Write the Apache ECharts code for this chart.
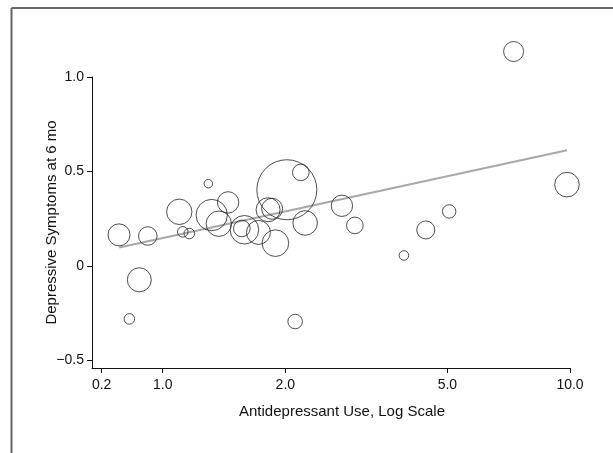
<!DOCTYPE html>
<html lang="en">
  <head>
    <meta charset="UTF-8" />
    <title>Antidepressant use vs depressive symptoms</title>
    <style>
      * {
        padding: 0;
        margin: 0;
      }
      html,
      body {
        width: 100%;
        height: 100%;
        background: #fff;
      }
      #main {
        width: 613px;
        height: 453px;
      }
    </style>
  </head>
  <body>
    <div id="main"></div>
    <script src="https://cdn.jsdelivr.net/npm/echarts@6/dist/echarts.min.js"></script>
    <script>
      // antidepressant use (log scale), symptoms at 6 mo, study weight
      var usage = [0.781, 0.876, 0.828, 0.919, 1.098, 1.12, 1.162, 1.294, 1.319, 1.447,
        1.373, 1.587, 1.564, 1.718, 1.891, 1.814, 1.856, 2.017, 2.183, 2.237,
        2.114, 2.754, 2.963, 3.91, 4.424, 5.05, 7.27, 9.83];
      var symptoms = [0.164, -0.074, -0.281, 0.158, 0.286, 0.18, 0.171, 0.435, 0.269, 0.336,
        0.223, 0.191, 0.198, 0.177, 0.12, 0.297, 0.302, 0.403, 0.495, 0.227,
        -0.295, 0.318, 0.214, 0.055, 0.19, 0.288, 1.135, 0.43];
      var weight = [121, 144, 28, 86, 161, 28, 28, 18, 246, 114,
        161, 204, 69, 144, 177, 144, 110, 900, 69, 151,
        53, 114, 69, 23, 81, 45, 100, 151];

      // fitted line ends
      var fitX = [0.782, 9.83];
      var fitY = [0.097, 0.612];

      // x ticks (first tick sits at the axis break)
      var xTickAt = [0.708, 1, 2, 5, 10];
      var xTickLabels = ['0.2', '1.0', '2.0', '5.0', '10.0'];
      var yTicks = [-0.5, 0, 0.5, 1.0];

      var font = "'Liberation Sans', Arial, sans-serif";
      var myChart = echarts.init(document.getElementById('main'));

      var xTickPos = xTickAt.map(v => Math.log10(v));
      var points = usage.map((v, i) => [Math.log10(v), symptoms[i], weight[i]]);

      var option = {
        animation: false,
        grid: {
          left: 92,
          right: 43,
          top: 77,
          bottom: 85,
        },
        xAxis: {
          type: 'value',
          min: -0.1737,
          max: 1,
          name: 'Antidepressant Use, Log Scale',
          nameLocation: 'middle',
          nameGap: 36,
          nameMoveOverlap: false,
          nameTextStyle: {
            fontFamily: font,
            fontSize: 15,
            color: '#111',
            padding: [0, 0, 0, 22],
          },
          splitLine: {show: false},
          axisLine: {onZero: false, lineStyle: {color: '#111', width: 1}},
          axisTick: {
            show: true,
            length: 5,
            customValues: xTickPos,
            lineStyle: {color: '#111'},
          },
          axisLabel: {
            customValues: xTickPos,
            margin: 10,
            fontFamily: font,
            fontSize: 14,
            color: '#111',
            formatter: function(v) {
              var best = 0;
              xTickPos.forEach((p, i) => {
                if (Math.abs(p - v) < Math.abs(xTickPos[best] - v)) best = i;
              });
              return xTickLabels[best];
            },
          },
        },
        yAxis: {
          type: 'value',
          min: -0.541,
          max: 1.0,
          name: 'Depressive Symptoms at 6 mo',
          nameLocation: 'middle',
          nameGap: 33,
          nameMoveOverlap: false,
          nameTextStyle: {
            fontFamily: font,
            fontSize: 15,
            color: '#111',
          },
          splitLine: {show: false},
          axisLine: {show: true, onZero: false, lineStyle: {color: '#111', width: 1}},
          axisTick: {
            show: true,
            length: 5,
            customValues: yTicks,
            lineStyle: {color: '#111'},
          },
          axisLabel: {
            customValues: yTicks,
            margin: 8,
            fontFamily: font,
            fontSize: 14,
            color: '#111',
            formatter: function(v) {
              if (Math.abs(v) < 1e-9) return '0';
              return v.toFixed(1).replace('-', '\u2212');
            },
          },
        },
        graphic: [
          {
            type: 'line',
            shape: {x1: 11.5, y1: 8, x2: 613, y2: 8},
            style: {stroke: '#666', lineWidth: 2},
          },
          {
            type: 'line',
            shape: {x1: 11.5, y1: 8, x2: 11.5, y2: 453},
            style: {stroke: '#666', lineWidth: 2},
          },
        ],
        series: [
          {
            type: 'line',
            data: fitX.map((v, i) => [Math.log10(v), fitY[i]]),
            symbol: 'none',
            silent: true,
            lineStyle: {color: '#a8a8a8', width: 2},
            z: 1,
          },
          {
            type: 'scatter',
            data: points,
            clip: false,
            symbol: 'circle',
            symbolSize: d => 2 * Math.sqrt(d[2]),
            itemStyle: {
              color: 'rgba(0,0,0,0)',
              borderColor: '#222',
              borderWidth: 1,
            },
            z: 2,
          },
        ],
      };
      myChart.setOption(option);
    </script>
  </body>
</html>
